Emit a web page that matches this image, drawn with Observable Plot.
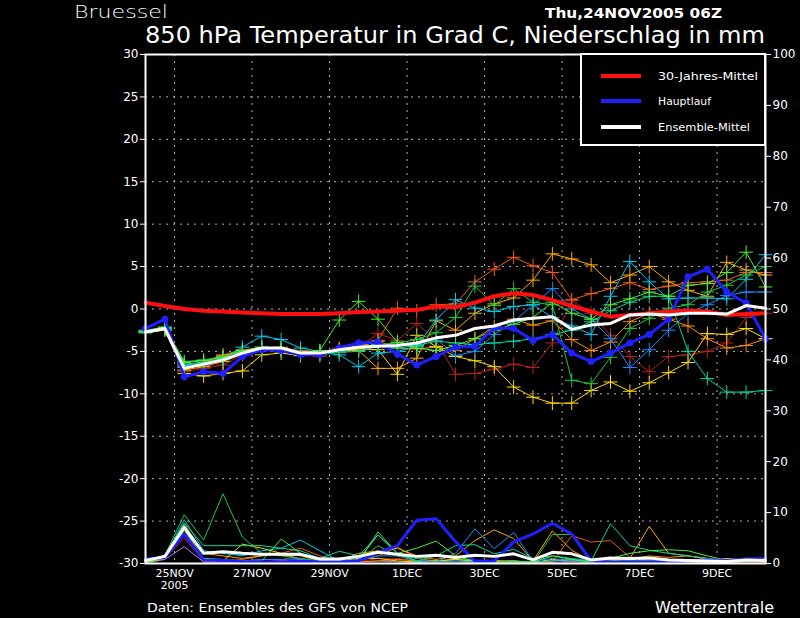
<!DOCTYPE html>
<html><head><meta charset="utf-8">
<script src="https://cdn.jsdelivr.net/npm/d3@7"></script>
<script src="https://cdn.jsdelivr.net/npm/@observablehq/plot@0.6"></script>
<style>
html,body{margin:0;padding:0;background:#000;}
#chart{width:800px;height:618px;overflow:hidden;}
</style></head><body><div id="chart"></div>
<script>
// ---- time steps (12-hourly) ----
const times = ["2005-11-24T06","2005-11-24T18","2005-11-25T06","2005-11-25T18","2005-11-26T06","2005-11-26T18",
"2005-11-27T06","2005-11-27T18","2005-11-28T06","2005-11-28T18","2005-11-29T06","2005-11-29T18",
"2005-11-30T06","2005-11-30T18","2005-12-01T06","2005-12-01T18","2005-12-02T06","2005-12-02T18",
"2005-12-03T06","2005-12-03T18","2005-12-04T06","2005-12-04T18","2005-12-05T06","2005-12-05T18",
"2005-12-06T06","2005-12-06T18","2005-12-07T06","2005-12-07T18","2005-12-08T06","2005-12-08T18",
"2005-12-09T06","2005-12-09T18","2005-12-10T06"];
const xDomain = ["2005-11-24T06","2005-12-10T06"];
const xTickTimes = ["2005-11-25T00","2005-11-27T00","2005-11-29T00","2005-12-01T00","2005-12-03T00","2005-12-05T00","2005-12-07T00","2005-12-09T00"];
const xTickLabels = ["25NOV","27NOV","29NOV","1DEC","3DEC","5DEC","7DEC","9DEC"];
const yTicksLeft = [-30,-25,-20,-15,-10,-5,0,5,10,15,20,25,30];
const yGrid = [-25,-20,-15,-10,-5,0,5,10,15,20,25];
const yTicksRight = [0,10,20,30,40,50,60,70,80,90,100];

// ---- 850 hPa temperature (°C) ----
const tempClimate = [0.75,0.35,0.0,-0.2,-0.3,-0.4,-0.5,-0.6,-0.6,-0.6,-0.5,-0.35,-0.3,-0.2,-0.1,0.3,0.2,0.75,1.5,1.85,1.65,1.05,0.35,-0.3,-0.9,-0.7,-0.5,-0.3,-0.2,-0.3,-0.7,-0.6,-0.5];
const tempMain = [-2.3,-1.2,-8.0,-7.4,-7.6,-5.6,-4.8,-4.9,-5.4,-5.4,-4.6,-4.0,-3.9,-5.3,-6.6,-5.6,-4.5,-4.4,-2.2,-2.3,-3.7,-3.0,-5.2,-6.2,-5.2,-4.0,-3.0,-1.2,3.8,4.7,2.0,0.7,-3.5];
const tempMean = [-2.7,-2.3,-7.0,-6.5,-6.0,-5.2,-4.6,-4.6,-5.2,-5.2,-4.8,-4.5,-4.4,-4.3,-4.0,-3.4,-3.1,-2.3,-2.0,-1.3,-1.1,-0.9,-2.4,-1.9,-1.7,-0.7,-0.6,-0.7,-0.5,-0.5,-0.6,0.4,0.1];
const tempLime = [-2.6,-2.2,-6.3,-6.1,-5.7,-4.9,-4.5,-4.8,-5.1,-4.9,-1.3,0.9,-1.2,-3.9,-4.6,-4.9,-4.3,-3.5,-2.5,-1.8,-1.0,0.8,-0.5,-1.2,0.5,1.2,2.0,1.5,2.8,3.0,4.3,6.7,2.6];
const tempGreen = [-2.5,-2.1,-6.2,-6.0,-5.6,-5.0,-4.8,-4.7,-5.3,-5.3,-5.0,-4.5,-4.2,-4.0,-3.6,-2.8,-1.0,2.7,0.4,2.4,0.8,0.5,-8.4,-8.8,-5.7,-2.3,-1.1,0.1,0.5,2.0,2.8,4.0,5.0];
const tempTeal = [-2.8,-2.4,-6.5,-6.3,-5.9,-5.1,-4.8,-4.9,-5.3,-5.4,-5.1,-5.0,-4.4,-4.6,-4.3,-3.8,-4.0,-4.2,-4.0,-3.8,-3.5,-3.0,-2.5,-1.5,-0.2,0.8,1.5,1.5,-5.0,-8.2,-9.8,-9.8,-9.6];
const tempCyan = [-2.7,-2.3,-6.7,-6.4,-5.8,-4.5,-3.2,-3.6,-4.6,-5.0,-5.4,-6.8,-5.2,-5.0,-4.4,-1.3,1.1,0.1,-0.3,0.3,0.5,-1.0,-2.0,-3.0,1.5,5.6,3.2,1.2,1.3,1.3,1.2,3.5,6.4];
const tempBlue = [-2.6,-2.2,-6.8,-6.6,-6.0,-5.0,-4.5,-4.6,-5.0,-5.2,-4.9,-4.4,-4.2,-4.3,-4.2,-3.5,-5.5,-5.0,-3.0,-1.5,0.5,2.4,0.0,-1.2,-3.5,-6.9,-4.8,-2.5,-0.5,0.5,1.6,2.0,2.0];
const tempGold = [-2.8,-2.5,-7.6,-7.9,-7.6,-7.3,-5.4,-5.2,-5.5,-5.3,-5.0,-4.7,-4.8,-7.7,-3.1,-4.4,-5.6,-6.1,-6.8,-9.2,-10.4,-11.1,-11.1,-9.6,-8.6,-9.7,-8.7,-7.5,-6.3,-2.9,-3.0,-2.3,-3.5];
const tempOrange = [-2.7,-2.3,-7.2,-6.8,-6.2,-5.3,-4.8,-4.7,-5.1,-5.0,-4.8,-4.9,-7.0,-7.0,-5.8,-1.4,-2.5,-0.5,0.6,1.3,3.4,6.5,5.9,5.2,3.1,4.0,5.0,3.2,2.2,1.5,5.5,4.6,4.0];
const tempDarkOrange = [-2.6,-2.3,-6.9,-6.5,-5.5,-4.9,-4.7,-4.5,-5.0,-5.1,-4.7,-4.4,-3.8,-4.6,-4.7,-4.5,-4.9,-3.5,-2.1,-1.2,-1.9,-1.4,-3.6,-4.9,-3.9,-1.5,-0.5,-1.2,-2.0,-3.5,-4.6,-4.3,-3.5];
const tempOrangeRed = [-2.6,-2.2,-6.6,-6.3,-5.4,-4.8,-4.6,-4.6,-4.9,-5.0,-4.9,-4.6,-3.7,0.1,-0.2,0.5,0.6,3.2,4.7,6.1,5.1,4.3,1.1,1.8,2.4,3.1,2.3,2.7,3.1,3.2,3.4,4.3,4.3];
const tempFirebrick = [-2.7,-2.3,-7.4,-7.0,-6.6,-5.4,-4.6,-4.6,-5.4,-5.6,-4.6,-4.5,-2.9,-3.7,-1.7,-3.7,-7.7,-7.6,-7.1,-6.5,-6.9,-4.0,1.0,-0.5,-3.1,-5.6,-7.4,-5.6,-5.4,-5.0,-4.0,-1.0,-0.5];

// ---- precipitation (mm) ----
const precMain = [0.9,1.2,5.8,0.7,0.6,0.4,0.3,0.3,0.5,0.3,0.3,0.5,2.2,3.5,8.5,8.8,4.3,0.5,0.5,4.2,5.8,7.9,5.8,0.5,0.2,0.3,0.3,0.3,0.5,0.7,0.6,0.9,1.0];
const precMean = [0.6,1.4,7.1,2.0,2.3,2.0,1.8,1.8,1.8,0.9,0.9,1.4,2.2,1.8,1.4,1.6,1.2,1.6,1.4,1.9,0.7,2.2,1.9,0.7,1.1,1.0,1.1,0.7,0.6,0.5,0.4,0.7,0.6];
const precLime = [0.2,1.0,6.5,1.0,0.8,0.5,0.5,4.8,2.0,0.5,0.3,0.3,6.2,2.0,3.0,4.4,1.5,0.4,0.2,0.3,0.3,1.5,0.8,0.3,1.0,2.0,2.5,2.7,2.5,1.5,0.6,0.8,0.8];
const precGreen = [0.4,1.6,9.6,4.6,13.7,5.2,2.0,1.5,1.0,0.5,0.6,0.5,3.5,1.5,1.0,1.5,1.0,0.6,0.3,0.2,0.1,5.7,5.7,0.1,0.4,0.6,0.5,0.6,0.7,0.3,0.2,0.4,0.5];
const precTeal = [0.5,1.5,8.0,3.5,3.5,3.5,3.5,3.0,2.5,1.0,2.4,1.5,5.6,2.0,0.5,1.5,3.5,3.7,1.9,2.8,1.0,1.5,1.0,0.5,7.8,3.5,2.6,2.0,1.5,1.0,0.5,0.6,0.8];
const precCyan = [0.3,1.3,8.6,2.5,2.0,1.5,2.5,3.0,4.6,2.5,0.5,0.8,5.6,2.0,0.3,0.3,0.5,0.3,0.2,0.5,0.3,0.5,0.8,0.3,0.5,0.4,0.3,0.3,0.3,0.3,0.4,0.5,0.6];
const precBlue = [0.2,1.2,6.0,1.0,0.5,0.5,0.8,0.8,1.0,0.3,0.3,0.5,1.5,1.5,0.6,0.3,2.0,6.8,2.9,6.1,0.5,1.0,0.5,0.2,0.3,0.3,0.2,0.3,0.3,0.4,0.5,0.6,0.6];
const precGold = [0.2,1.0,7.0,0.5,0.5,3.8,3.0,2.0,0.8,0.3,0.5,1.0,1.0,0.5,0.3,0.5,0.8,0.5,0.5,0.5,0.2,0.8,0.5,0.2,0.3,0.5,0.5,0.5,0.5,0.5,1.0,0.7,0.8];
const precOrange = [0.3,1.3,7.7,2.0,1.5,1.0,1.5,2.0,1.5,0.5,0.5,2.0,2.5,3.0,1.5,0.8,1.5,4.5,6.6,4.9,0.5,6.4,2.6,0.5,0.8,1.0,7.3,2.0,1.5,1.0,0.6,1.0,0.7];
const precDarkOrange = [0.2,1.1,6.8,0.8,0.5,0.4,0.3,0.5,0.6,0.3,0.3,0.3,0.5,0.8,0.5,0.5,0.8,0.6,0.3,0.5,0.2,0.5,0.8,0.3,0.5,0.8,1.5,1.2,1.5,0.8,0.4,0.5,0.5];
const precOrangeRed = [0.2,1.0,5.8,0.3,0.5,0.8,1.5,2.0,3.0,1.5,0.5,0.6,1.5,3.2,1.0,0.5,0.8,0.5,0.6,0.3,0.2,0.3,5.5,4.2,4.5,1.2,0.5,0.3,0.2,0.2,0.3,0.3,0.3];
const precFirebrick = [0.2,1.0,5.0,0.4,0.3,0.5,0.8,0.6,2.0,0.8,0.3,0.3,1.0,1.0,0.5,0.5,0.5,0.3,0.4,0.3,0.2,0.3,0.2,0.2,0.3,0.2,0.1,0.2,0.2,0.1,0.2,0.3,0.3];
const precPurple = [0.1,0.8,3.3,0.3,0.2,0.2,0.3,0.5,0.8,0.2,0.2,0.3,0.5,0.3,0.2,0.3,0.3,0.2,0.1,0.2,0.1,0.2,0.5,0.1,0.2,0.2,0.1,0.2,0.2,0.3,0.2,0.3,0.3];

const legendLabels = ["30-Jahres-Mittel","Hauptlauf","Ensemble-Mittel"];
const titleText = "850 hPa Temperatur in Grad C, Niederschlag in mm";

// ---- build ----
const parse = d3.utcParse("%Y-%m-%dT%H");
const T = times.map(parse);
const toY = p => -30 + p * 0.6;   // mm on right axis -> °C position

const members = [
  {color:"#ab82ff", temp:null, prec:precPurple},
  {color:"#b22222", temp:tempFirebrick, prec:precFirebrick},
  {color:"#f05a1e", temp:tempOrangeRed, prec:precOrangeRed},
  {color:"#ff8c00", temp:tempDarkOrange, prec:precDarkOrange},
  {color:"#ffaa00", temp:tempOrange, prec:precOrange},
  {color:"#ffdc00", temp:tempGold, prec:precGold},
  {color:"#1e8cff", temp:tempBlue, prec:precBlue},
  {color:"#00c8f0", temp:tempCyan, prec:precCyan},
  {color:"#00d8a0", temp:tempTeal, prec:precTeal},
  {color:"#20c840", temp:tempGreen, prec:precGreen},
  {color:"#50ee30", temp:tempLime, prec:precLime}
];
const C_RED = "#ff1010", C_BLUE = "#2020ff", C_WHITE = "#ffffff";
const font = "'DejaVu Sans', sans-serif";

const marks = [
  Plot.gridY(yGrid, {stroke:"#b4b4b4", strokeOpacity:1, strokeDasharray:"2,5"}),
  Plot.gridX(xTickTimes.map(parse), {stroke:"#b4b4b4", strokeOpacity:1, strokeDasharray:"2,5"})
];
for (const m of members) {
  marks.push(Plot.line(m.prec, {x:(d,i)=>T[i], y:d=>toY(d), stroke:m.color, strokeWidth:1}));
}
marks.push(Plot.line(precMain, {x:(d,i)=>T[i], y:d=>toY(d), stroke:C_BLUE, strokeWidth:3}));
marks.push(Plot.line(precMean, {x:(d,i)=>T[i], y:d=>toY(d), stroke:C_WHITE, strokeWidth:3}));
for (const m of members) {
  if (!m.temp) continue;
  marks.push(Plot.line(m.temp, {x:(d,i)=>T[i], y:d=>d, stroke:m.color, strokeWidth:1}));
  marks.push(Plot.dot(m.temp, {x:(d,i)=>T[i], y:d=>d, stroke:m.color, symbol:"plus", r:4.5, strokeWidth:1}));
}
marks.push(Plot.line(tempMain, {x:(d,i)=>T[i], y:d=>d, stroke:C_BLUE, strokeWidth:3}));
marks.push(Plot.dot(tempMain, {x:(d,i)=>T[i], y:d=>d, fill:C_BLUE, r:3.5}));
marks.push(Plot.line(tempClimate, {x:(d,i)=>T[i], y:d=>d, stroke:C_RED, strokeWidth:4}));
marks.push(Plot.line(tempMean, {x:(d,i)=>T[i], y:d=>d, stroke:C_WHITE, strokeWidth:3}));
marks.push(Plot.frame({stroke:"#fff", strokeWidth:2}));
marks.push(Plot.axisY(yTicksLeft, {anchor:"left", tickSize:5, tickPadding:2, tickFormat:d=>String(d), label:null, fontSize:12}));
marks.push(Plot.axisY(yTicksRight.map(toY), {anchor:"right", tickSize:5, tickPadding:2, tickFormat:d=>String(Math.round((d+30)/0.6)), label:null, fontSize:12}));
marks.push(Plot.text(xTickTimes.map(parse), {x:d=>d, y:-30, text:(d,i)=>xTickLabels[i], dy:10, fill:"#fff", fontSize:11}));
marks.push(Plot.text([parse(xTickTimes[0])], {x:d=>d, y:-30, text:["2005"], dy:22, fill:"#fff", fontSize:11}));

const plot = Plot.plot({
  width:800, height:618,
  marginLeft:145, marginRight:35, marginTop:54, marginBottom:55,
  style:{background:"#000", color:"#fff", fontFamily:font, fontSize:"12px", overflow:"visible"},
  x:{type:"utc", domain:xDomain.map(parse), axis:null},
  y:{domain:[-30,30], axis:null},
  marks
});
document.getElementById("chart").appendChild(plot);

// ---- titles and legend ----
const svg = d3.select(plot);
function addText(str, x, y, size, len, weight) {
  svg.append("text").attr("x",x).attr("y",y).attr("fill","#fff").attr("text-anchor","start")
    .attr("font-family",font).attr("font-size",size).attr("font-weight",weight||"normal")
    .attr("textLength",len).attr("lengthAdjust","spacingAndGlyphs").text(str);
}
addText("Bruessel", 74, 17.5, 18, 94, "300");
addText(titleText, 145, 43, 23, 620, "normal");
addText("Thu,24NOV2005 06Z", 545, 18, 14, 177, "bold");
addText("Daten: Ensembles des GFS von NCEP", 147, 612, 12, 261, "normal");
addText("Wetterzentrale", 655, 613, 15, 119, "normal");

const lg = svg.append("g");
lg.append("rect").attr("x",581).attr("y",54).attr("width",184).attr("height",91)
  .attr("fill","#000").attr("stroke","#fff").attr("stroke-width",2);
const lgColors = [C_RED, C_BLUE, C_WHITE];
const lgY = [76, 101, 127];
const lgLen = [100, 53, 92];
legendLabels.forEach((lab,i) => {
  lg.append("line").attr("x1",601).attr("x2",641).attr("y1",lgY[i]).attr("y2",lgY[i])
    .attr("stroke",lgColors[i]).attr("stroke-width",4);
  lg.append("text").attr("x",658).attr("y",lgY[i]+4).attr("fill","#fff").attr("text-anchor","start")
    .attr("font-family",font).attr("font-size",11).attr("textLength",lgLen[i])
    .attr("lengthAdjust","spacingAndGlyphs").text(lab);
});
</script></body></html>
